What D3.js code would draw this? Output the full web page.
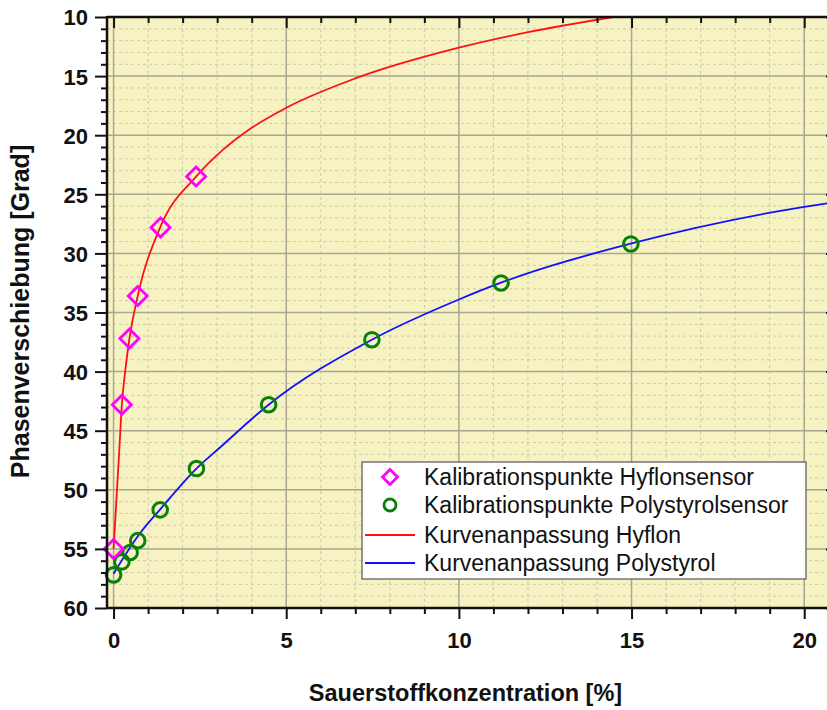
<!DOCTYPE html>
<html>
<head>
<meta charset="utf-8">
<script src="https://cdn.jsdelivr.net/npm/d3@7"></script>
<style>
  html, body { margin: 0; padding: 0; background: #ffffff; }
  svg { display: block; }
  text { font-family: Arial, "Liberation Sans", sans-serif; }
</style>
</head>
<body>
<svg id="chart" width="827" height="710"></svg>
<script>
// Calibration points, Hyflon sensor (O2 in %, phase shift in degrees)
const hyflonX = [0, 0.24, 0.46, 0.70, 1.36, 2.39];
const hyflonY = [55.0, 42.8, 37.2, 33.6, 27.8, 23.5];

// Calibration points, polystyrene sensor
const polyX = [0, 0.24, 0.48, 0.70, 1.35, 2.40, 4.49, 7.48, 11.22, 14.98];
const polyY = [57.2, 56.1, 55.3, 54.3, 51.7, 48.2, 42.8, 37.3, 32.5, 29.2];

// Fitted curves, sampled along their course
const fitHyflonX = [0, 0.1, 0.165, 0.24, 0.34, 0.46, 0.70, 1.35, 2.39, 3.18, 3.96, 5.02, 7.0, 10.0, 11.97, 14.48];
const fitHyflonY = [55.0, 50.0, 46.7, 42.8, 39.9, 37.2, 33.6, 27.8, 23.5, 21.2, 19.45, 17.65, 15.2, 12.6, 11.3, 10.0];
const fitPolyX = [0, 0.76, 1.35, 2.4, 3.09, 4.49, 7.48, 10.0, 11.2, 15.0, 20.0, 20.92];
const fitPolyY = [57.1, 53.7, 51.65, 48.2, 46.4, 42.8, 37.3, 33.9, 32.5, 29.16, 26.06, 25.65];

// Axis ticks
const xMajorTicks = [0, 5, 10, 15, 20];
const yMajorTicks = [10, 15, 20, 25, 30, 35, 40, 45, 50, 55, 60];

const legendLabels = [
  "Kalibrationspunkte Hyflonsensor",
  "Kalibrationspunkte Polystyrolsensor",
  "Kurvenanpassung Hyflon",
  "Kurvenanpassung Polystyrol"
];

const svg = d3.select("#chart");
const plot = { left: 107, top: 17, right: 836, bottom: 608 };

const x = d3.scaleLinear().domain([-0.19, 20.92]).range([plot.left, plot.right]);
const y = d3.scaleLinear().domain([10, 60]).range([plot.top, plot.bottom]);

const xMinor = d3.range(0, 21, 1);
const yMinor = d3.range(10, 61, 1);

// Plot background
svg.append("rect")
  .attr("x", plot.left).attr("y", plot.top)
  .attr("width", plot.right - plot.left).attr("height", plot.bottom - plot.top)
  .attr("fill", "#f7f2c2");

svg.append("clipPath").attr("id", "plotclip")
  .append("rect")
  .attr("x", plot.left).attr("y", plot.top)
  .attr("width", plot.right - plot.left).attr("height", plot.bottom - plot.top);

// Minor grid (dotted)
const grid = svg.append("g").attr("clip-path", "url(#plotclip)");
grid.selectAll("line.xminor").data(xMinor.filter(v => v % 5 !== 0)).join("line")
  .attr("x1", d => x(d)).attr("x2", d => x(d))
  .attr("y1", plot.top).attr("y2", plot.bottom)
  .attr("stroke", "#cbc7b4").attr("stroke-width", 1).attr("stroke-dasharray", "3,3");
grid.selectAll("line.yminor").data(yMinor.filter(v => v % 5 !== 0)).join("line")
  .attr("y1", d => y(d)).attr("y2", d => y(d))
  .attr("x1", plot.left).attr("x2", plot.right)
  .attr("stroke", "#cbc7b4").attr("stroke-width", 1).attr("stroke-dasharray", "3,3");

// Major grid (solid)
grid.selectAll("line.xmajor").data(xMajorTicks).join("line")
  .attr("x1", d => x(d)).attr("x2", d => x(d))
  .attr("y1", plot.top).attr("y2", plot.bottom)
  .attr("stroke", "#a9a692").attr("stroke-width", 1.5);
grid.selectAll("line.ymajor").data(yMajorTicks).join("line")
  .attr("y1", d => y(d)).attr("y2", d => y(d))
  .attr("x1", plot.left).attr("x2", plot.right)
  .attr("stroke", "#a9a692").attr("stroke-width", 1.5);

// Fitted curves
const line = d3.line().x(d => x(d[0])).y(d => y(d[1])).curve(d3.curveMonotoneX);
const curves = svg.append("g").attr("clip-path", "url(#plotclip)");
curves.append("path")
  .datum(fitHyflonX.map((v, i) => [v, fitHyflonY[i]]))
  .attr("d", line).attr("fill", "none").attr("stroke", "#ff1010").attr("stroke-width", 1.8);
curves.append("path")
  .datum(fitPolyX.map((v, i) => [v, fitPolyY[i]]))
  .attr("d", line).attr("fill", "none").attr("stroke", "#1010ff").attr("stroke-width", 1.8);

// Calibration markers
const diamond = s => `M0,${-s}L${s},0L0,${s}L${-s},0Z`;
svg.append("g").selectAll("circle").data(polyX.map((v, i) => [v, polyY[i]])).join("circle")
  .attr("cx", d => x(d[0])).attr("cy", d => y(d[1])).attr("r", 7.3)
  .attr("fill", "none").attr("stroke", "#0a800a").attr("stroke-width", 3);
svg.append("g").selectAll("path").data(hyflonX.map((v, i) => [v, hyflonY[i]])).join("path")
  .attr("transform", d => `translate(${x(d[0])},${y(d[1])})`)
  .attr("d", diamond(9.5))
  .attr("fill", "none").attr("stroke", "#ff00ff").attr("stroke-width", 2.8);

// Axes
const axisColor = "#111";
const bottomAxis = d3.axisBottom(x).tickValues(xMinor).tickSize(6).tickFormat("");
const gx = svg.append("g").attr("transform", `translate(0,${plot.bottom})`).call(bottomAxis);
gx.selectAll(".tick line").attr("stroke-width", 2).attr("stroke", axisColor)
  .attr("y2", d => d % 5 === 0 ? 11 : 6);
gx.select(".domain").remove();
gx.selectAll(".tick").filter(d => d % 5 === 0).append("text")
  .attr("y", 40).attr("text-anchor", "middle")
  .attr("fill", "#111").attr("font-size", 22).attr("font-weight", "bold")
  .text(d => d);

const topAxis = d3.axisBottom(x).tickValues(xMinor).tickSize(6).tickFormat("");
const gt = svg.append("g").attr("transform", `translate(0,${plot.top})`).call(topAxis);
gt.selectAll(".tick line").attr("stroke-width", 2).attr("stroke", axisColor)
  .attr("y2", d => d % 5 === 0 ? 11 : 6);
gt.select(".domain").remove();

const leftAxis = d3.axisLeft(y).tickValues(yMinor).tickSize(6).tickFormat("");
const gy = svg.append("g").attr("transform", `translate(${plot.left},0)`).call(leftAxis);
gy.selectAll(".tick line").attr("stroke-width", 2).attr("stroke", axisColor)
  .attr("x2", d => d % 5 === 0 ? -12 : -6);
gy.select(".domain").remove();
gy.selectAll(".tick").filter(d => d % 5 === 0).append("text")
  .attr("x", -19).attr("dy", "0.36em").attr("text-anchor", "end")
  .attr("fill", "#111").attr("font-size", 22).attr("font-weight", "bold")
  .text(d => d);

const rightAxis = d3.axisLeft(y).tickValues(yMajorTicks).tickSize(10).tickFormat("");
const gr = svg.append("g").attr("transform", `translate(${plot.right},0)`).call(rightAxis);
gr.selectAll(".tick line").attr("stroke-width", 2).attr("stroke", axisColor);
gr.select(".domain").remove();

// Frame lines
svg.append("line").attr("x1", plot.left).attr("x2", plot.right)
  .attr("y1", plot.top).attr("y2", plot.top).attr("stroke", axisColor).attr("stroke-width", 2.5);
svg.append("line").attr("x1", plot.left).attr("x2", plot.right)
  .attr("y1", plot.bottom).attr("y2", plot.bottom).attr("stroke", axisColor).attr("stroke-width", 2.5);
svg.append("line").attr("x1", plot.left).attr("x2", plot.left)
  .attr("y1", plot.top - 1).attr("y2", plot.bottom + 1).attr("stroke", axisColor).attr("stroke-width", 2.5);
svg.append("line").attr("x1", plot.right).attr("x2", plot.right)
  .attr("y1", plot.top - 1).attr("y2", plot.bottom + 1).attr("stroke", axisColor).attr("stroke-width", 2.5);

// Axis titles
svg.append("text")
  .attr("x", (plot.left + plot.right) / 2 - 6).attr("y", 701)
  .attr("text-anchor", "middle").attr("font-size", 23.5).attr("font-weight", "bold").attr("fill", "#111")
  .text("Sauerstoffkonzentration [%]");
svg.append("text")
  .attr("transform", `translate(29,${(plot.top + plot.bottom) / 2 - 1}) rotate(-90)`)
  .attr("text-anchor", "middle").attr("font-size", 25).attr("font-weight", "bold").attr("fill", "#111")
  .text("Phasenverschiebung [Grad]");

// Legend
const legend = svg.append("g").attr("transform", "translate(362,462)");
legend.append("rect").attr("width", 444).attr("height", 117)
  .attr("fill", "#ffffff").attr("stroke", "#555").attr("stroke-width", 1.2);
const rowY = [15, 43, 73, 101];
legend.append("path").attr("transform", `translate(28,${rowY[0]})`).attr("d", diamond(7.5))
  .attr("fill", "none").attr("stroke", "#ff00ff").attr("stroke-width", 2.8);
legend.append("circle").attr("cx", 28).attr("cy", rowY[1]).attr("r", 6)
  .attr("fill", "none").attr("stroke", "#0a800a").attr("stroke-width", 2.8);
legend.append("line").attr("x1", 3).attr("x2", 53).attr("y1", rowY[2]).attr("y2", rowY[2])
  .attr("stroke", "#ff1010").attr("stroke-width", 1.8);
legend.append("line").attr("x1", 3).attr("x2", 53).attr("y1", rowY[3]).attr("y2", rowY[3])
  .attr("stroke", "#1010ff").attr("stroke-width", 1.8);
legend.selectAll("text.lab").data(legendLabels).join("text")
  .attr("x", 62).attr("y", (d, i) => rowY[i]).attr("dy", "0.36em")
  .attr("font-size", 23).attr("fill", "#111")
  .text(d => d);
</script>
</body>
</html>
